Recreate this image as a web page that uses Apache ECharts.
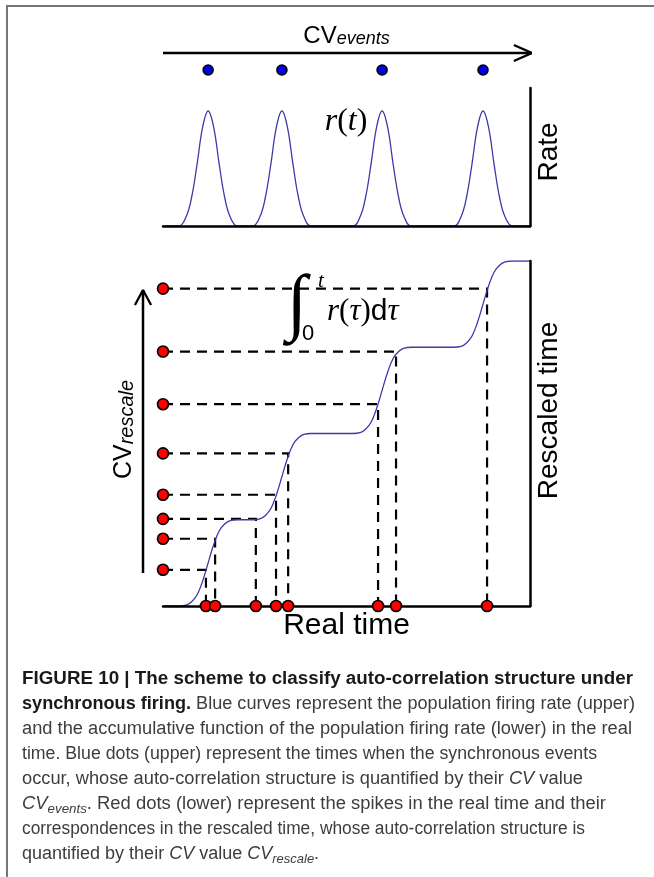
<!DOCTYPE html>
<html><head><meta charset="utf-8">
<script src="https://cdn.jsdelivr.net/npm/echarts@6/dist/echarts.min.js"></script>
<style>html,body{margin:0;padding:0;background:#fff}#c{width:654px;height:877px}</style>
</head><body><div id="c"></div>
<script>
// ---------- data (real-time units 0..100) ----------
const eventTimes = [12.3, 32.4, 59.7, 87.2];
const rateT = [0,
  4.3, 6.3, 7.8, 9.3, 10.8, 12.3, 13.8, 15.3, 16.8, 18.3, 20.3,
  24.4, 26.4, 27.9, 29.4, 30.9, 32.4, 33.9, 35.4, 36.9, 38.4, 40.4,
  51.7, 53.7, 55.2, 56.7, 58.2, 59.7, 61.2, 62.7, 64.2, 65.7, 67.7,
  79.2, 81.2, 82.7, 84.2, 85.7, 87.2, 88.7, 90.2, 91.7, 93.2, 95.2,
  100];
const rateV = [0,
  0, 0.08, 0.25, 0.54, 0.86, 1, 0.86, 0.54, 0.25, 0.08, 0,
  0, 0.08, 0.25, 0.54, 0.86, 1, 0.86, 0.54, 0.25, 0.08, 0,
  0, 0.08, 0.25, 0.54, 0.86, 1, 0.86, 0.54, 0.25, 0.08, 0,
  0, 0.08, 0.25, 0.54, 0.86, 1, 0.86, 0.54, 0.25, 0.08, 0,
  0];
const rescaledT = rateT;
const rescaledV = [0,
  0, 0.01, 0.05, 0.13, 0.29, 0.5, 0.71, 0.87, 0.95, 0.99, 1,
  1, 1.01, 1.05, 1.13, 1.29, 1.5, 1.71, 1.87, 1.95, 1.99, 2,
  2, 2.01, 2.05, 2.13, 2.29, 2.5, 2.71, 2.87, 2.95, 2.99, 3,
  3, 3.01, 3.05, 3.13, 3.29, 3.5, 3.71, 3.87, 3.95, 3.99, 4,
  4];
const spikeTimes = [11.7, 14.2, 25.3, 30.8, 34.1, 58.6, 63.5, 88.3];
const spikeRescaled = [0.42, 0.78, 1.01, 1.29, 1.77, 2.34, 2.95, 3.68];
// decorative arrows (data units of their own grids)
const eventsArrowLine = [[0, 1], [100.5, 1]];
const eventsArrowHead = [[95.6, 1.47], [100.5, 1], [95.6, 0.53]];
const rescaleArrowLine = [[0, 0], [0, 1]];
const rescaleArrowHead = [[-0.62, 0.947], [0, 1], [0.62, 0.947]];

const captionLines = [
  [['b', 'FIGURE 10 | The scheme to classify auto-correlation structure under']],
  [['b', 'synchronous firing.'], ['n', ' Blue curves represent the population firing rate (upper)']],
  [['n', 'and the accumulative function of the population firing rate (lower) in the real']],
  [['n', 'time. Blue dots (upper) represent the times when the synchronous events']],
  [['n', 'occur, whose auto-correlation structure is quantified by their '], ['i', 'CV'], ['n', ' value']],
  [['i', 'CV'], ['is', 'events'], ['n', '. Red dots (lower) represent the spikes in the real time and their']],
  [['n', 'correspondences in the rescaled time, whose auto-correlation structure is']],
  [['n', 'quantified by their '], ['i', 'CV'], ['n', ' value '], ['i', 'CV'], ['is', 'rescale'], ['n', '.']]
];
// layout: right edge (px) of each caption line in the reference; 0 = natural width
const captionRight = [633, 635, 632, 597, 583, 606, 585, 0];

// ---------- layout helpers ----------
const SANS = 'Liberation Sans';
const fonts = {
  b: 'bold 18px "' + SANS + '"',
  n: '18px "' + SANS + '"',
  i: 'italic 18px "' + SANS + '"',
  is: 'italic 13px "' + SANS + '"'
};
const ctx = document.createElement('canvas').getContext('2d');
function tw(f, s) { ctx.font = f; return ctx.measureText(s).width; }
const capX = 22, capY0 = 679, capDy = 25;
const lineW = captionLines.map(line => line.reduce((a, [st, txt]) => a + tw(fonts[st], txt), 0));
const fitScales = [];
captionLines.forEach((l, i) => { if (captionRight[i]) fitScales.push((captionRight[i] - capX) / lineW[i]); });
const avgScale = fitScales.slice(2).reduce((a, b) => a + b, 0) / fitScales.slice(2).length;
const captionGraphics = [];
captionLines.forEach((line, li) => {
  const s = captionRight[li] ? (captionRight[li] - capX) / lineW[li] : avgScale;
  let x = capX;
  const y = capY0 + li * capDy;
  line.forEach(([st, txt]) => {
    captionGraphics.push({
      type: 'text', x: x, y: y + (st === 'is' ? 5 : 0), scaleX: s, silent: true,
      style: { text: txt, font: fonts[st], fill: st === 'b' ? '#1a1a1a' : '#3d3d3d', verticalAlign: 'middle', align: 'left' }
    });
    x += tw(fonts[st], txt) * s;
  });
});

const axisBase = { type: 'value', min: 0, max: 100, axisTick: { show: false }, axisLabel: { show: false }, splitLine: { show: false } };
const blackLine = { show: true, onZero: false, lineStyle: { color: '#000', width: 2.5 } };
const noLine = { show: false, onZero: false };
const blue = '#3a3aa8';
const blueDot = { color: '#0000e6', borderColor: '#000', borderWidth: 1.6, opacity: 1 };
const redDot = { color: '#ff0000', borderColor: '#000', borderWidth: 1.6, opacity: 1 };

const chart = echarts.init(document.getElementById('c'), null, { renderer: 'canvas' });
chart.setOption({
  animation: false,
  backgroundColor: '#fff',
  grid: [
    { left: 163, right: 124, top: 53, height: 17 },
    { left: 163, right: 124, top: 88, height: 138 },
    { left: 163, right: 124, top: 261, height: 345 },
    { left: 130, width: 26, top: 290, height: 283 }
  ],
  xAxis: [
    Object.assign({}, axisBase, { gridIndex: 0, position: 'top', axisLine: noLine,
      name: '{a|CV}{b|events}', nameLocation: 'middle', nameGap: 5,
      nameTextStyle: { rich: {
        a: { fontSize: 24, fontFamily: SANS, color: '#000', lineHeight: 30, verticalAlign: 'bottom' },
        b: { fontSize: 18, fontFamily: SANS, fontStyle: 'italic', color: '#000', lineHeight: 18, verticalAlign: 'bottom' } } } }),
    Object.assign({}, axisBase, { gridIndex: 1, axisLine: blackLine, z: 3 }),
    Object.assign({}, axisBase, { gridIndex: 2, axisLine: blackLine, z: 3,
      name: 'Real time', nameLocation: 'middle', nameGap: 5,
      nameTextStyle: { fontSize: 30, fontFamily: SANS, color: '#000' } }),
    { type: 'value', gridIndex: 3, min: -1, max: 1, show: false }
  ],
  yAxis: [
    { type: 'value', gridIndex: 0, min: 0, max: 1, show: false },
    { type: 'value', gridIndex: 1, min: 0, max: 1.2, position: 'right', axisLine: blackLine, z: 3,
      axisTick: { show: false }, axisLabel: { show: false }, splitLine: { show: false },
      name: 'Rate', nameLocation: 'middle', nameRotate: 90, nameGap: 5,
      nameTextStyle: { fontSize: 28, fontFamily: SANS, color: '#000', padding: [0, 0, 0, 10] } },
    { type: 'value', gridIndex: 2, min: 0, max: 4, position: 'right', axisLine: blackLine, z: 3,
      axisTick: { show: false }, axisLabel: { show: false }, splitLine: { show: false },
      name: 'Rescaled time', nameLocation: 'middle', nameRotate: 90, nameGap: 5,
      nameTextStyle: { fontSize: 28, fontFamily: SANS, color: '#000', padding: [0, 0, 0, 46] } },
    { type: 'value', gridIndex: 2, min: 0, max: 4, position: 'left', axisLine: noLine,
      axisTick: { show: false }, axisLabel: { show: false }, splitLine: { show: false },
      name: '{a|CV}{b|rescale}', nameLocation: 'middle', nameRotate: 90, nameGap: 26,
      nameTextStyle: { padding: [0, 0, 0, 8], rich: {
        a: { fontSize: 25, fontFamily: SANS, color: '#000', lineHeight: 30, verticalAlign: 'bottom' },
        b: { fontSize: 20, fontFamily: SANS, fontStyle: 'italic', color: '#000', lineHeight: 18, verticalAlign: 'bottom' } } } },
    { type: 'value', gridIndex: 3, min: 0, max: 1, show: false }
  ],
  series: [
    { type: 'line', xAxisIndex: 0, yAxisIndex: 0, data: eventsArrowLine, symbol: 'none', clip: false,
      lineStyle: { color: '#000', width: 2.5 }, z: 2 },
    { type: 'line', xAxisIndex: 0, yAxisIndex: 0, data: eventsArrowHead, symbol: 'none', clip: false,
      lineStyle: { color: '#000', width: 2.3 }, z: 2 },
    { type: 'scatter', xAxisIndex: 0, yAxisIndex: 0, data: eventTimes.map(t => [t, 0]), symbolSize: 10, clip: false,
      itemStyle: blueDot, z: 5 },
    { type: 'line', xAxisIndex: 1, yAxisIndex: 1, data: rateT.map((t, i) => [t, rateV[i]]), symbol: 'none',
      smooth: 0.4, lineStyle: { color: blue, width: 1.3 }, z: 2 },
    { type: 'line', xAxisIndex: 2, yAxisIndex: 2, data: rescaledT.map((t, i) => [t, rescaledV[i]]), symbol: 'none',
      smooth: 0.4, lineStyle: { color: blue, width: 1.3 }, z: 2 },
    { type: 'lines', coordinateSystem: 'cartesian2d', xAxisIndex: 2, yAxisIndex: 2, polyline: true,
      lineStyle: { color: '#000', width: 2.2, type: [10, 7], opacity: 1 }, z: 2,
      data: spikeTimes.map((t, i) => ({ coords: [[0, spikeRescaled[i]], [t, spikeRescaled[i]], [t, 0]] })) },
    { type: 'line', xAxisIndex: 3, yAxisIndex: 4, data: rescaleArrowLine, symbol: 'none', clip: false,
      lineStyle: { color: '#000', width: 2.5 }, z: 2 },
    { type: 'line', xAxisIndex: 3, yAxisIndex: 4, data: rescaleArrowHead, symbol: 'none', clip: false,
      lineStyle: { color: '#000', width: 2.3 }, z: 2 },
    { type: 'scatter', xAxisIndex: 2, yAxisIndex: 2, data: spikeRescaled.map(v => [0, v]), symbolSize: 11, clip: false,
      itemStyle: redDot, z: 5 },
    { type: 'scatter', xAxisIndex: 2, yAxisIndex: 2, data: spikeTimes.map(t => [t, 0]), symbolSize: 11, clip: false,
      itemStyle: redDot, z: 5 }
  ],
  graphic: [
    { type: 'line', silent: true, shape: { x1: 7, y1: 6, x2: 654, y2: 6 }, style: { stroke: '#777', lineWidth: 2 } },
    { type: 'line', silent: true, shape: { x1: 7, y1: 5, x2: 7, y2: 877 }, style: { stroke: '#777', lineWidth: 2 } },
    { type: 'text', x: 346, y: 122, silent: true, style: { text: '{i|r}{n|(}{i|t}{n|)}', align: 'center', verticalAlign: 'middle',
      rich: { i: { font: 'italic 32px "Liberation Serif"', fill: '#000' }, n: { font: '32px "Liberation Serif"', fill: '#000' } } } },
    { type: 'text', x: 297, y: 307, silent: true, style: { text: '∫', font: '74px "Liberation Serif"', fill: '#000', align: 'center', verticalAlign: 'middle' } },
    { type: 'text', x: 321, y: 281, silent: true, style: { text: 't', font: 'italic 21px "Liberation Serif"', fill: '#000', align: 'center', verticalAlign: 'middle' } },
    { type: 'text', x: 308, y: 334, silent: true, style: { text: '0', font: '22px "Liberation Sans"', fill: '#000', align: 'center', verticalAlign: 'middle' } },
    { type: 'text', x: 327, y: 312, silent: true, style: { text: '{i|r}{n|(}{i|τ}{n|)}{s|d}{i|τ}', align: 'left', verticalAlign: 'middle',
      rich: { i: { font: 'italic 31px "Liberation Serif"', fill: '#000' }, n: { font: '31px "Liberation Serif"', fill: '#000' }, s: { font: '30px "Liberation Sans"', fill: '#000' } } } }
  ].concat(captionGraphics)
});
</script>
</body></html>
